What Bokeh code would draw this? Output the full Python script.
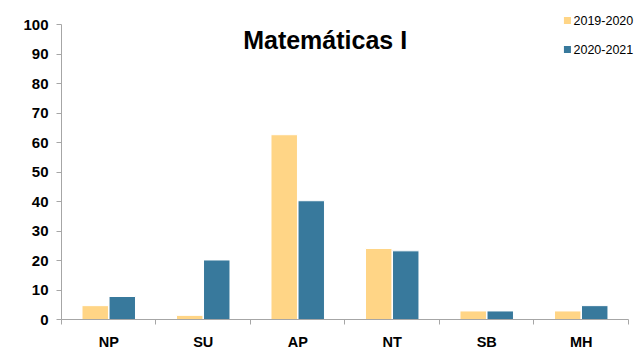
from bokeh.plotting import figure
from bokeh.models import (Range1d, LinearAxis, FixedTicker, Label, ColumnDataSource)
from bokeh.core.properties import value
from bokeh.transform import dodge
from bokeh.embed import file_html
from bokeh.resources import INLINE

categories = ["NP", "SU", "AP", "NT", "SB", "MH"]
series_names = ["2019-2020", "2020-2021"]
values_2019 = [4.7, 1.4, 62.7, 24.1, 2.9, 2.9]
values_2020 = [7.8, 20.2, 40.3, 23.3, 2.9, 4.7]
y_ticks = [0, 10, 20, 30, 40, 50, 60, 70, 80, 90, 100]

FONT = "Liberation Sans"
YELLOW = "#FFD586"
BLUE = "#38799C"
COLORS = [YELLOW, BLUE]

n = len(categories)
centres = [i + 0.5 for i in range(n)]
bounds = list(range(n + 1))

src = ColumnDataSource(dict(pos=centres, cat=categories, a=values_2019, b=values_2020))

# frame spans to the top/right canvas edges; axes are bounded to the data area
p = figure(width=643, height=356, x_range=Range1d(0, 6.159), y_range=Range1d(0, 108.25),
           output_backend="svg", toolbar_location=None, x_axis_location=None,
           min_border_left=61, min_border_right=0, min_border_top=0, min_border_bottom=37)
p.xgrid.visible = False
p.ygrid.visible = False
p.outline_line_color = None
p.background_fill_color = "white"
p.border_fill_color = "white"

r1 = p.vbar(x=dodge("pos", -0.143), top="a", width=0.28, source=src,
            fill_color=YELLOW, line_color="white", line_width=1)
r2 = p.vbar(x=dodge("pos", 0.143), top="b", width=0.28, source=src,
            fill_color=BLUE, line_color="white", line_width=1)

# x axis: ticks at category boundaries, labels at centres
xax = LinearAxis(ticker=FixedTicker(ticks=centres, minor_ticks=bounds),
                 major_label_overrides={c: lab for c, lab in zip(centres, categories)},
                 bounds=(0, n))
xax.major_tick_out = 0
xax.major_tick_in = 0
xax.minor_tick_out = 5
xax.minor_tick_in = 0
xax.minor_tick_line_color = "#A6A6A6"
xax.axis_line_color = "#A6A6A6"
xax.major_label_text_font = FONT
xax.major_label_text_font_style = "bold"
xax.major_label_text_font_size = "14.5px"
xax.major_label_text_color = "black"
xax.major_label_standoff = 9
p.add_layout(xax, "below")

yax = p.yaxis[0]
yax.ticker = FixedTicker(ticks=y_ticks)
yax.bounds = (0, 100)
yax.axis_line_color = "#A6A6A6"
yax.major_tick_line_color = "#A6A6A6"
yax.major_tick_out = 5
yax.major_tick_in = 0
yax.minor_tick_line_color = None
yax.major_label_text_font = FONT
yax.major_label_text_font_style = "bold"
yax.major_label_text_font_size = "15px"
yax.major_label_text_color = "black"
yax.major_label_standoff = 8

title = Label(x=2.79, y=94.7, text="Matemáticas I",
              text_font=FONT, text_font_style="bold", text_font_size="25px",
              text_align="center", text_baseline="middle", text_color="black")
p.add_layout(title)

# legend (top right)
leg_src = ColumnDataSource(dict(x=[5.354, 5.354], tx=[5.418, 5.418], y=[101.5, 91.6],
                                name=series_names, color=COLORS))
p.scatter(x="x", y="y", marker="square", size=7, source=leg_src,
          fill_color="color", line_color=None)
p.text(x="tx", y="y", text="name", source=leg_src, text_font=value(FONT),
       text_font_size="12.5px", text_baseline="middle", text_align="left",
       text_color="black")

open("out.html", "w").write(file_html(p, INLINE))
